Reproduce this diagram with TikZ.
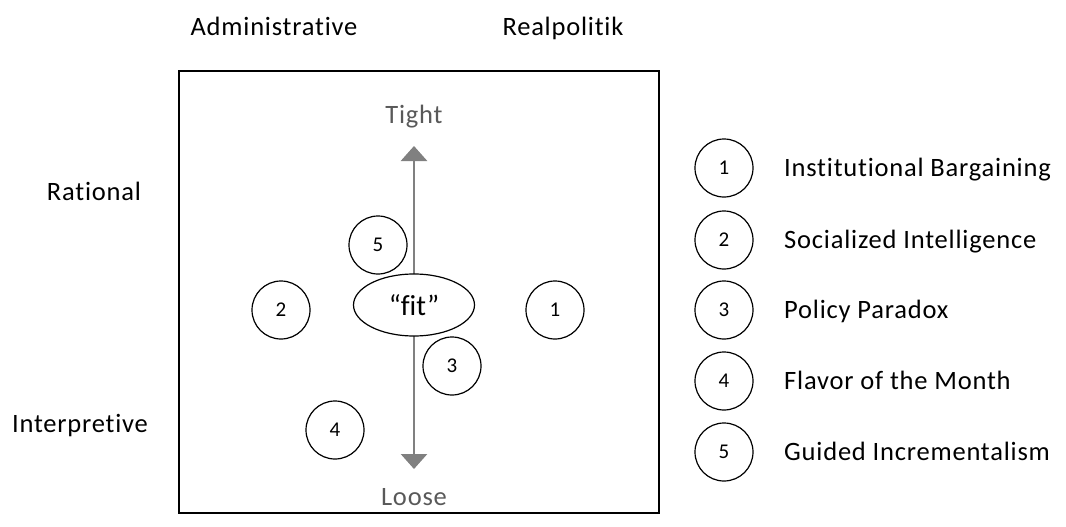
\documentclass[tikz,border=0pt]{standalone}
\usepackage{fontspec}
\setmainfont[Ligatures={NoCommon},LetterSpace=3.0]{Carlito}
\newfontfamily\plainfont[Ligatures={NoCommon}]{Carlito}
\usetikzlibrary{arrows.meta,shapes.geometric}
\begin{document}
\begin{tikzpicture}[x=1pt,y=-1pt,
  lbl/.style={font=\fontsize{26.5}{30}\selectfont, text=black, inner sep=0pt, anchor=base},
  axislbl/.style={font=\fontsize{26.5}{30}\selectfont, text=black!65, inner sep=0pt, anchor=base},
  num/.style={circle, draw=black, line width=1.2pt, fill=white, minimum size=58pt, inner sep=0pt, font=\plainfont\fontsize{21}{24}\selectfont},
  fitnode/.style={ellipse, draw=black, line width=1.2pt, fill=white, minimum width=121pt, minimum height=62pt, inner sep=0pt, font=\plainfont\fontsize{29}{32}\selectfont},
  axis/.style={draw=black!50, line width=2.8pt, -{Triangle[length=15pt,width=26pt]}}
]
\useasboundingbox (0,0) rectangle (1066,527);
\node[draw=black, line width=1.3pt, minimum width=480pt, minimum height=442pt, inner sep=0pt] (box) at (419,292) {};
\node[lbl] (adm) at (274,36) {Administrative};
\node[lbl] (real) at (563,36) {Realpolitik};
\node[lbl] (rat) at (94,200) {Rational};
\node[lbl] (int) at (80,432) {Interpretive};
\node[axislbl] (tight) at (414,124) {Tight};
\node[axislbl] (loose) at (414,505) {Loose};
\coordinate (c) at (414,305);
\coordinate (top) at (414,146);
\coordinate (bot) at (414,469);
\draw[axis] (c) -- (top);
\draw[axis] (c) -- (bot);
\node[fitnode] (fit) at (c) {“fit”};
\node[num] (n5) at (378,245) {5};
\node[num] (n2) at (281,310) {2};
\node[num] (n1) at (555,310) {1};
\node[num] (n3) at (452,366) {3};
\node[num] (n4) at (335,430) {4};
\node[num] (l1) at (724,168) {1};
\node[num] (l2) at (724,240) {2};
\node[num] (l3) at (724,310) {3};
\node[num] (l4) at (724,381) {4};
\node[num] (l5) at (724,452) {5};
\node[lbl, anchor=base west] (t1) at (784,176) {Institutional Bargaining};
\node[lbl, anchor=base west] (t2) at (784,248) {Socialized Intelligence};
\node[lbl, anchor=base west] (t3) at (784,318) {Policy Paradox};
\node[lbl, anchor=base west] (t4) at (784,389) {Flavor of the Month};
\node[lbl, anchor=base west] (t5) at (784,460) {Guided Incrementalism};
\end{tikzpicture}
\end{document}
